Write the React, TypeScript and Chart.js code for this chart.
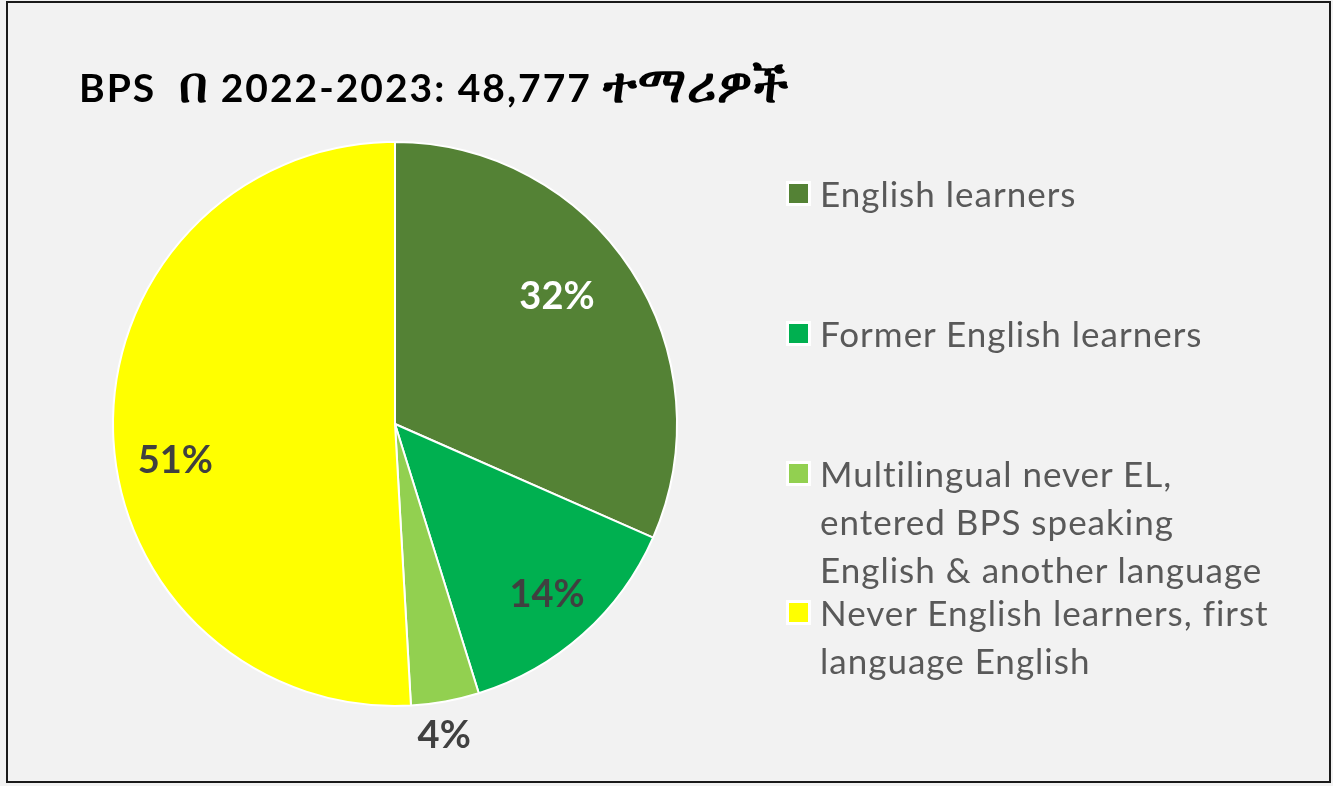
import React, { useEffect, useRef } from "react";
import { Chart, registerables } from "chart.js";

Chart.register(...registerables);

const titleText = "BPS  በ 2022-2023: 48,777 ተማሪዎች";
const categories = [
  "English learners",
  "Former English learners",
  "Multilingual never EL, entered BPS speaking English & another language",
  "Never English learners, first language English",
];
const shares = [31.6, 13.6, 3.9, 50.9];
const sliceColors = ["#548235", "#00b050", "#92d050", "#ffff00"];
const labelColors = ["#ffffff", "#404040", "#404040", "#404040"];

// label placement: [radius fraction, angle offset in degrees]
const labelPlacement: [number, number][] = [
  [0.73, -5],
  [0.81, 0],
  [1.12, 1.3],
  [0.79, -8],
];
const legendTops = [169, 309, 449, 588];

const FONT = "Lato, 'Open Sans', sans-serif";

const labelPlugin = {
  id: "sliceLabels",
  afterDatasetsDraw(chart: any) {
    const meta = chart.getDatasetMeta(0);
    const data = chart.data.datasets[0].data as number[];
    const total = data.reduce((a, b) => a + b, 0);
    const ctx = chart.ctx;
    ctx.save();
    ctx.font = `bold 38px ${FONT}`;
    ctx.textAlign = "center";
    ctx.textBaseline = "middle";
    meta.data.forEach((arc: any, i: number) => {
      const p = arc.getProps(["x", "y", "startAngle", "endAngle", "outerRadius"], true);
      const [frac, off] = labelPlacement[i];
      const a = (p.startAngle + p.endAngle) / 2 + (off * Math.PI) / 180;
      const r = p.outerRadius * frac;
      const x = p.x + Math.cos(a) * r;
      const y = p.y + Math.sin(a) * r;
      ctx.fillStyle = labelColors[i];
      ctx.fillText(`${Math.round((data[i] / total) * 100)}%`, x, y);
    });
    ctx.restore();
  },
};

function renderTitle(t: string) {
  const parts = t.split(/([\u1200-\u137F]+)/);
  return parts.map((p, i) =>
    /[\u1200-\u137F]/.test(p) ? (
      <span key={i} style={{ fontSize: 50, letterSpacing: 1 }}>
        {p}
      </span>
    ) : (
      <span key={i}>{p}</span>
    )
  );
}

export default function App() {
  const canvasRef = useRef<HTMLCanvasElement | null>(null);

  useEffect(() => {
    if (!canvasRef.current) return;
    const chart = new Chart(canvasRef.current, {
      type: "pie",
      data: {
        labels: categories,
        datasets: [
          {
            data: shares,
            backgroundColor: sliceColors,
            borderColor: "#ffffff",
            borderWidth: 2,
          },
        ],
      },
      options: {
        responsive: false,
        animation: false,
        devicePixelRatio: 1,
        layout: { padding: { left: 112, right: 655, top: 141, bottom: 79 } },
        plugins: {
          legend: { display: false },
          tooltip: { enabled: false },
          title: { display: false },
        },
      },
      plugins: [labelPlugin],
    });
    return () => chart.destroy();
  }, []);

  return (
    <div
      style={{
        position: "fixed",
        left: 0,
        top: 0,
        width: 1333,
        height: 786,
        background: "#f2f2f2",
        overflow: "hidden",
      }}
    >
      <div
        style={{
          position: "absolute",
          left: 6,
          top: 1,
          width: 1325,
          height: 782,
          border: "2px solid #1a1a1a",
          boxSizing: "border-box",
        }}
      />
      <canvas
        ref={canvasRef}
        width={1333}
        height={786}
        style={{ position: "absolute", left: 0, top: 0, width: 1333, height: 786 }}
      />
      <div
        style={{
          position: "absolute",
          left: 79,
          top: 58,
          height: 50,
          display: "flex",
          alignItems: "baseline",
          fontFamily: FONT,
          fontWeight: "bold",
          fontSize: 39,
          letterSpacing: 2,
          lineHeight: "50px",
          color: "#000",
          whiteSpace: "pre",
        }}
      >
        {renderTitle(titleText)}
      </div>
      {categories.map((c, i) => (
        <div
          key={c}
          style={{
            position: "absolute",
            left: 786,
            top: legendTops[i],
            width: 500,
            fontFamily: FONT,
            fontSize: 35,
            letterSpacing: 1,
            lineHeight: "48px",
            color: "#595959",
          }}
        >
          <div
            style={{
              position: "absolute",
              left: 0,
              top: 12,
              width: 19,
              height: 19,
              background: sliceColors[i],
              border: "3px solid #ffffff",
            }}
          />
          <div style={{ marginLeft: 34, width: 456 }}>{c}</div>
        </div>
      ))}
    </div>
  );
}
